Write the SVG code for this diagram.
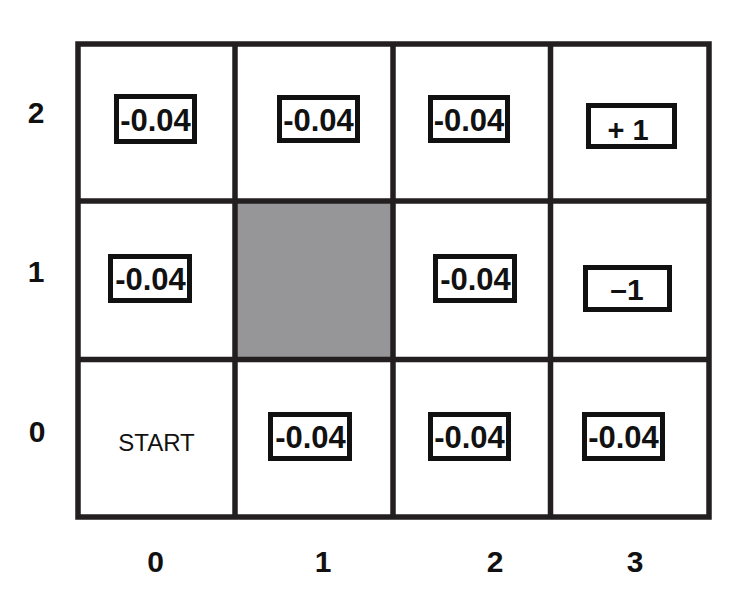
<svg xmlns="http://www.w3.org/2000/svg" width="754" height="616" viewBox="0 0 754 616">
<style>
.grid{fill:none;stroke:#231f20;stroke-width:5.5}
.box{fill:#fff;stroke:#111;stroke-width:5}
.v{font-family:"Liberation Sans",Arial,Helvetica,sans-serif;font-weight:bold;font-size:31px;fill:#111;text-anchor:middle}
.ax{font-family:"Liberation Sans",Arial,Helvetica,sans-serif;font-weight:bold;font-size:30px;fill:#111;text-anchor:middle}
.st{font-family:"Liberation Sans",Arial,Helvetica,sans-serif;font-size:24px;fill:#111;text-anchor:middle}
</style>
<rect width="754" height="616" fill="#fff"/>
<rect id="wall" x="235" y="201" width="158" height="158" fill="#969698"/>
<g id="grid" class="grid">
<rect x="78" y="44" width="631" height="473"/>
<line x1="235" y1="44" x2="235" y2="517"/>
<line x1="393" y1="44" x2="393" y2="517"/>
<line x1="550.5" y1="44" x2="550.5" y2="517"/>
<line x1="78" y1="201" x2="709" y2="201"/>
<line x1="78" y1="359.5" x2="709" y2="359.5"/>
</g>
<g id="c02"><rect class="box" x="116.5" y="96.5" width="78" height="45"/><text class="v" x="155.5" y="130.5">-0.04</text></g>
<g id="c12"><rect class="box" x="279.5" y="97.5" width="78" height="43"/><text class="v" x="318.5" y="130.5">-0.04</text></g>
<g id="c22"><rect class="box" x="430.5" y="97.5" width="77" height="43"/><text class="v" x="469" y="130.5">-0.04</text></g>
<g id="c32"><rect class="box" x="588.5" y="105.5" width="86" height="41"/><text class="v" x="628" y="140" style="font-size:29px">+ 1</text></g>
<g id="c01"><rect class="box" x="110.5" y="256.5" width="79" height="44"/><text class="v" x="150.5" y="290">-0.04</text></g>
<g id="c21"><rect class="box" x="435.5" y="256.5" width="79" height="44"/><text class="v" x="475.5" y="290">-0.04</text></g>
<g id="c31"><rect class="box" x="585.5" y="267.5" width="84" height="42"/><text class="v" x="627" y="299.5" style="font-size:30px">–1</text></g>
<g id="c00"><text class="st" x="156.5" y="451">START</text></g>
<g id="c10"><rect class="box" x="270.5" y="414.5" width="79" height="44"/><text class="v" x="310.5" y="448">-0.04</text></g>
<g id="c20"><rect class="box" x="430.5" y="414.5" width="78" height="44"/><text class="v" x="469.5" y="448">-0.04</text></g>
<g id="c30"><rect class="box" x="584.5" y="414.5" width="78" height="44"/><text class="v" x="623.5" y="448">-0.04</text></g>
<g id="axes">
<text class="ax" x="36" y="123">2</text>
<text class="ax" x="36" y="282">1</text>
<text class="ax" x="37" y="442">0</text>
<text class="ax" x="155.5" y="572">0</text>
<text class="ax" x="323" y="572">1</text>
<text class="ax" x="495" y="572">2</text>
<text class="ax" x="635" y="572">3</text>
</g>
</svg>
